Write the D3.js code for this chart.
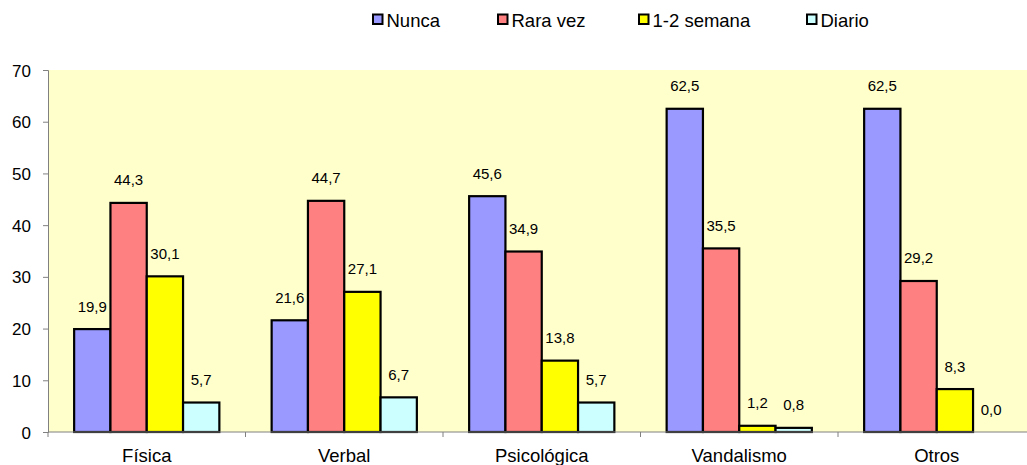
<!DOCTYPE html>
<html><head><meta charset="utf-8">
<script src="https://cdn.jsdelivr.net/npm/d3@7"></script>
<style>body{margin:0;background:#fff;} svg{display:block;font-family:"Liberation Sans",Arial,sans-serif;}</style>
</head><body>
<svg id="c" width="1027" height="465"></svg>
<script>
const categories = ["Física", "Verbal", "Psicológica", "Vandalismo", "Otros"];
const seriesNames = ["Nunca", "Rara vez", "1-2 semana", "Diario"];
const nunca = [19.9, 21.6, 45.6, 62.5, 62.5];
const raraVez = [44.3, 44.7, 34.9, 35.5, 29.2];
const semana = [30.1, 27.1, 13.8, 1.2, 8.3];
const diario = [5.7, 6.7, 5.7, 0.8, 0.0];
const yTicks = [0, 10, 20, 30, 40, 50, 60, 70];
const colors = ["#9999FF", "#FF8080", "#FFFF00", "#CCFFFF"];
const seriesValues = [nunca, raraVez, semana, diario];

const svg = d3.select("#c");
const pL = 48, pR = 1035.5, pT = 70, pB = 432;

const x = d3.scaleBand().domain(categories).range([pL, pR]).paddingInner(0).paddingOuter(0);
const xs = d3.scaleBand().domain(seriesNames).range([0, x.bandwidth()]).paddingInner(0).paddingOuter(0.72);
const y = d3.scaleLinear().domain([0, 70]).range([pB, pT]);

svg.append("rect").attr("x", pL).attr("y", pT).attr("width", pR - pL).attr("height", pB - pT).attr("fill", "#FFFFCC");

// bars
seriesValues.forEach((vals, si) => {
  const g = svg.append("g");
  categories.forEach((c, ci) => {
    const v = vals[ci];
    const bx = x(c) + xs(seriesNames[si]);
    if (v > 0) {
      g.append("rect").attr("x", bx).attr("y", y(v)).attr("width", xs.bandwidth()).attr("height", y(0) - y(v))
        .attr("fill", colors[si]).attr("stroke", "#000").attr("stroke-width", 2.2);
    }
    g.append("text").attr("x", bx + xs.bandwidth() / 2).attr("y", y(v) - 17.5)
      .attr("text-anchor", "middle").attr("font-size", 15).attr("fill", "#000")
      .text(d3.format(".1f")(v).replace(".", ","));
  });
});

// y axis
const yAxis = d3.axisLeft(y).tickValues(yTicks).tickSize(5).tickPadding(12).tickFormat(d3.format("d"));
const ya = svg.append("g").attr("transform", `translate(${pL},0)`).call(yAxis);
ya.select(".domain").attr("stroke", "#808080");
ya.selectAll(".tick line").attr("stroke", "#808080");
ya.selectAll("text").attr("font-size", 17).attr("fill", "#000").attr("dy", "0.36em");

// x axis
const xa = svg.append("g").attr("transform", `translate(0,${pB})`);
xa.append("line").attr("x1", pL).attr("x2", pR).attr("y1", 0).attr("y2", 0).attr("stroke", "#808080");
const bounds = categories.map(c => x(c)).concat([pR]);
xa.selectAll(".tk").data(bounds).enter().append("line").attr("x1", d => d).attr("x2", d => d).attr("y1", 0).attr("y2", 5).attr("stroke", "#808080");
xa.selectAll(".lb").data(categories).enter().append("text").attr("x", d => x(d) + x.bandwidth() / 2).attr("y", 29.5)
  .attr("text-anchor", "middle").attr("font-size", 18.5).attr("fill", "#000").text(d => d);

// legend
const legendX = [372, 497, 638, 806];
seriesNames.forEach((n, i) => {
  svg.append("rect").attr("x", legendX[i] + 1).attr("y", 14.5).attr("width", 9.5).attr("height", 9.5)
    .attr("fill", colors[i]).attr("stroke", "#000").attr("stroke-width", 2);
  svg.append("text").attr("x", legendX[i] + 14.5).attr("y", 26.5).attr("font-size", 18.5).attr("fill", "#000").text(n);
});
</script>
</body></html>
